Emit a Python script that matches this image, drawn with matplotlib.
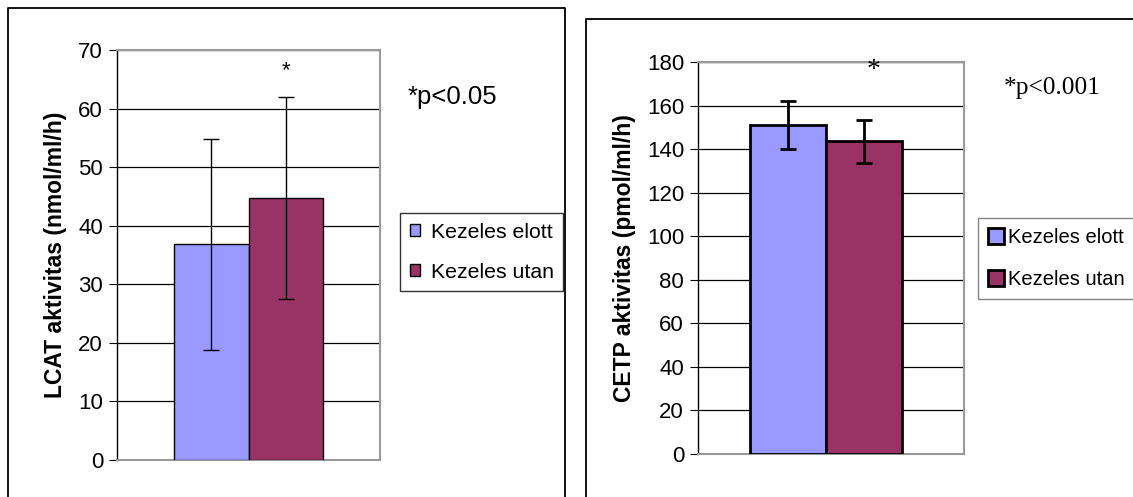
import matplotlib
matplotlib.use("Agg")
import matplotlib.pyplot as plt
from matplotlib.patches import Patch
from matplotlib.lines import Line2D

# --- data ---
series = ["Kezeles elott", "Kezeles utan"]
lcat_means = [36.8, 44.7]
lcat_err = [18.0, 17.2]
cetp_means = [151.0, 143.5]
cetp_err = [11.0, 10.0]
lcat_ticks = [0, 10, 20, 30, 40, 50, 60, 70]
cetp_ticks = [0, 20, 40, 60, 80, 100, 120, 140, 160, 180]

colors = ["#9999FF", "#993366"]
W, H = 1133, 497

plt.rcParams["font.family"] = ["Liberation Sans", "DejaVu Sans"]
fig = plt.figure(figsize=(W / 100, H / 100), dpi=100)


def fx(px):
    return px / W


def fy(py):
    return 1 - py / H


def draw_panel(ax, means, errs, ticks, ylabel, xlim, lw, elw, caps):
    offsets = [-0.285, 0.285]
    for i, (m, e) in enumerate(zip(means, errs)):
        ax.bar(offsets[i], m, width=0.57, color=colors[i], edgecolor="black",
               linewidth=lw, zorder=3)
        ax.errorbar(offsets[i], m, yerr=e, fmt="none", ecolor="black",
                    elinewidth=elw, capsize=caps, capthick=elw, zorder=4)
    ax.set_xlim(*xlim)
    ax.set_ylim(ticks[0], ticks[-1])
    ax.set_yticks(ticks)
    ax.set_xticks([])
    ax.yaxis.grid(True, color="black", lw=0.9, zorder=0)
    ax.set_axisbelow(True)
    for s in ["top", "right", "bottom"]:
        ax.spines[s].set_color("#999999")
        ax.spines[s].set_linewidth(1.5)
    ax.spines["left"].set_color("black")
    ax.spines["left"].set_linewidth(1.0)
    ax.tick_params(axis="y", labelsize=16, length=6, direction="out", pad=4)
    ax.set_ylabel(ylabel, fontsize=16.5, fontweight="bold", labelpad=8)


# --- left panel: LCAT ---
ax1 = fig.add_axes([fx(117), fy(460), fx(263), 410 / H])
draw_panel(ax1, lcat_means, lcat_err, lcat_ticks,
           "LCAT aktivitas (nmol/ml/h)", (-1.0, 1.0), 1.0, 1.0, 5.5)
ax1.text(0.285, 66.5, "*", ha="center", va="center", fontsize=16)
fig.text(fx(408), fy(97), "*p<0.05", fontsize=18.5, va="center")

# --- right panel: CETP ---
ax2 = fig.add_axes([fx(698), fy(454), fx(266), 392 / H])
draw_panel(ax2, cetp_means, cetp_err, cetp_ticks,
           "CETP aktivitas (pmol/ml/h)", (-0.962, 1.038), 2.0, 2.0, 5.5)
ax2.text(0.36, 176, "*", ha="center", va="center", fontsize=20,
         family="Liberation Serif")
fig.text(fx(1004), fy(88), "*p<0.001", fontsize=18.3, va="center",
         family="Liberation Serif")

# --- legends ---
h1 = [Patch(facecolor=c, edgecolor="black", linewidth=1.0) for c in colors]
fig.legend(h1, series, loc="upper left", bbox_to_anchor=(fx(400), fy(213)),
           borderaxespad=0, fontsize=15.3, frameon=True, fancybox=False,
           edgecolor="black", handlelength=0.5, handleheight=0.5,
           handletextpad=0.5, labelspacing=1.0,
           borderpad=0.45).get_frame().set_linewidth(1.0)
h2 = [Patch(facecolor=c, edgecolor="black", linewidth=2.0) for c in colors]
fig.legend(h2, series, loc="upper left", bbox_to_anchor=(fx(978), fy(218)),
           borderaxespad=0, fontsize=14.5, frameon=True, fancybox=False,
           edgecolor="#666666", handlelength=0.8, handleheight=0.85,
           handletextpad=0.2, labelspacing=1.15,
           borderpad=0.5).get_frame().set_linewidth(1.0)

# --- outer chart frames ---
for xs, ys in [([8, 8, 565, 565], [H, 8, 8, H]),
               ([586, 586, W + 5], [H, 19, 19])]:
    fig.add_artist(Line2D([fx(x) for x in xs], [fy(y) for y in ys],
                          color="black", lw=1.3))

fig.savefig("out.png", dpi=100)
